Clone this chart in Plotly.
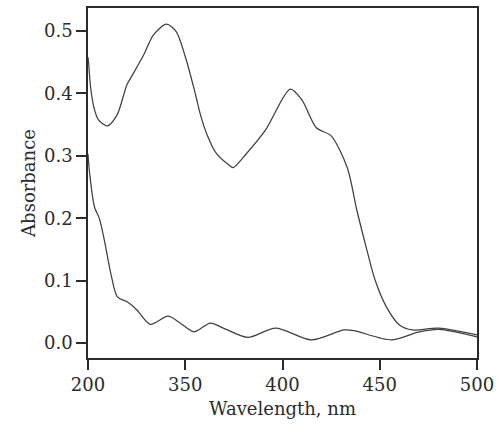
import numpy as np
import plotly.graph_objects as go

# Wavelength (nm) and absorbance
upper_wl = [200, 201, 204, 209, 216, 230, 245, 260, 266, 286, 301, 321, 336, 350.3, 355.3,
            357.8, 361.2, 366.2, 373, 374.6, 381.3, 391.4, 404, 409.9, 417.4, 425,
            433.3, 438.3, 443.4, 447.6, 453.4, 460.1, 466.8, 480.3, 500]
upper_abs = [0.458, 0.448, 0.410, 0.378, 0.358, 0.348, 0.366, 0.414, 0.425, 0.462, 0.494,
             0.511, 0.499, 0.456, 0.398, 0.366, 0.334, 0.303, 0.284, 0.281, 0.303, 0.342,
             0.407, 0.390, 0.345, 0.332, 0.281, 0.212, 0.149, 0.101, 0.058, 0.029, 0.021,
             0.024, 0.013]

lower_wl = [200, 202.6, 210, 217.7, 225.2, 235.3, 245.3, 260.4, 275.5, 295.7, 323.3, 341,
            354.5, 362.9, 369.6, 382.2, 396.4, 414.9, 431.6, 436.7, 456, 470.2, 480.3, 500]
lower_abs = [0.303, 0.271, 0.218, 0.199, 0.165, 0.111, 0.074, 0.066, 0.053, 0.030, 0.043,
             0.033, 0.018, 0.032, 0.024, 0.009, 0.024, 0.005, 0.021, 0.020, 0.005, 0.018,
             0.022, 0.010]

x_tick_labels = ["200", "350", "400", "450", "500"]
y_ticks = [0.0, 0.1, 0.2, 0.3, 0.4, 0.5]

# The printed axis is not linear: 200->350 spans one tick interval, then 50 nm per interval
label_nm = [float(t) for t in x_tick_labels]
label_pos = list(range(len(label_nm)))


def to_axis(wl):
    return np.interp(wl, label_nm, label_pos)


FONT = "DejaVu Serif"
INK = "#2b2b2b"

fig = go.Figure()
for wl, ab in [(upper_wl, upper_abs), (lower_wl, lower_abs)]:
    fig.add_trace(go.Scatter(x=to_axis(wl), y=ab, mode="lines",
                             line=dict(color="#404040", width=1.25, shape="spline", smoothing=0.8),
                             showlegend=False, hoverinfo="skip"))

fig.update_layout(
    width=500, height=430,
    margin=dict(l=88, r=14, t=6, b=72),
    paper_bgcolor="white", plot_bgcolor="white",
    font=dict(family=FONT, size=18, color=INK),
)
fig.update_xaxes(range=[0, 4], tickvals=label_pos, ticktext=x_tick_labels,
                 ticklabeloverflow="allow",
                 showgrid=False, zeroline=False, showline=True, linecolor=INK, linewidth=1.6,
                 mirror=True, ticks="outside", ticklen=10, tickwidth=1.5, tickcolor=INK,
                 title=dict(text="Wavelength, nm", standoff=8, font=dict(size=18)))
fig.update_yaxes(range=[-0.024, 0.537], tickvals=y_ticks, tickformat=".1f",
                 showgrid=False, zeroline=False, showline=True, linecolor=INK, linewidth=1.6,
                 mirror=True, ticks="outside", ticklen=10, tickwidth=1.5, tickcolor=INK,
                 title=dict(text="Absorbance", standoff=4, font=dict(size=18)))

fig.write_html("out.html", config={"displayModeBar": False},
               post_script="document.body.style.margin='0px';document.body.style.overflow='hidden';")
